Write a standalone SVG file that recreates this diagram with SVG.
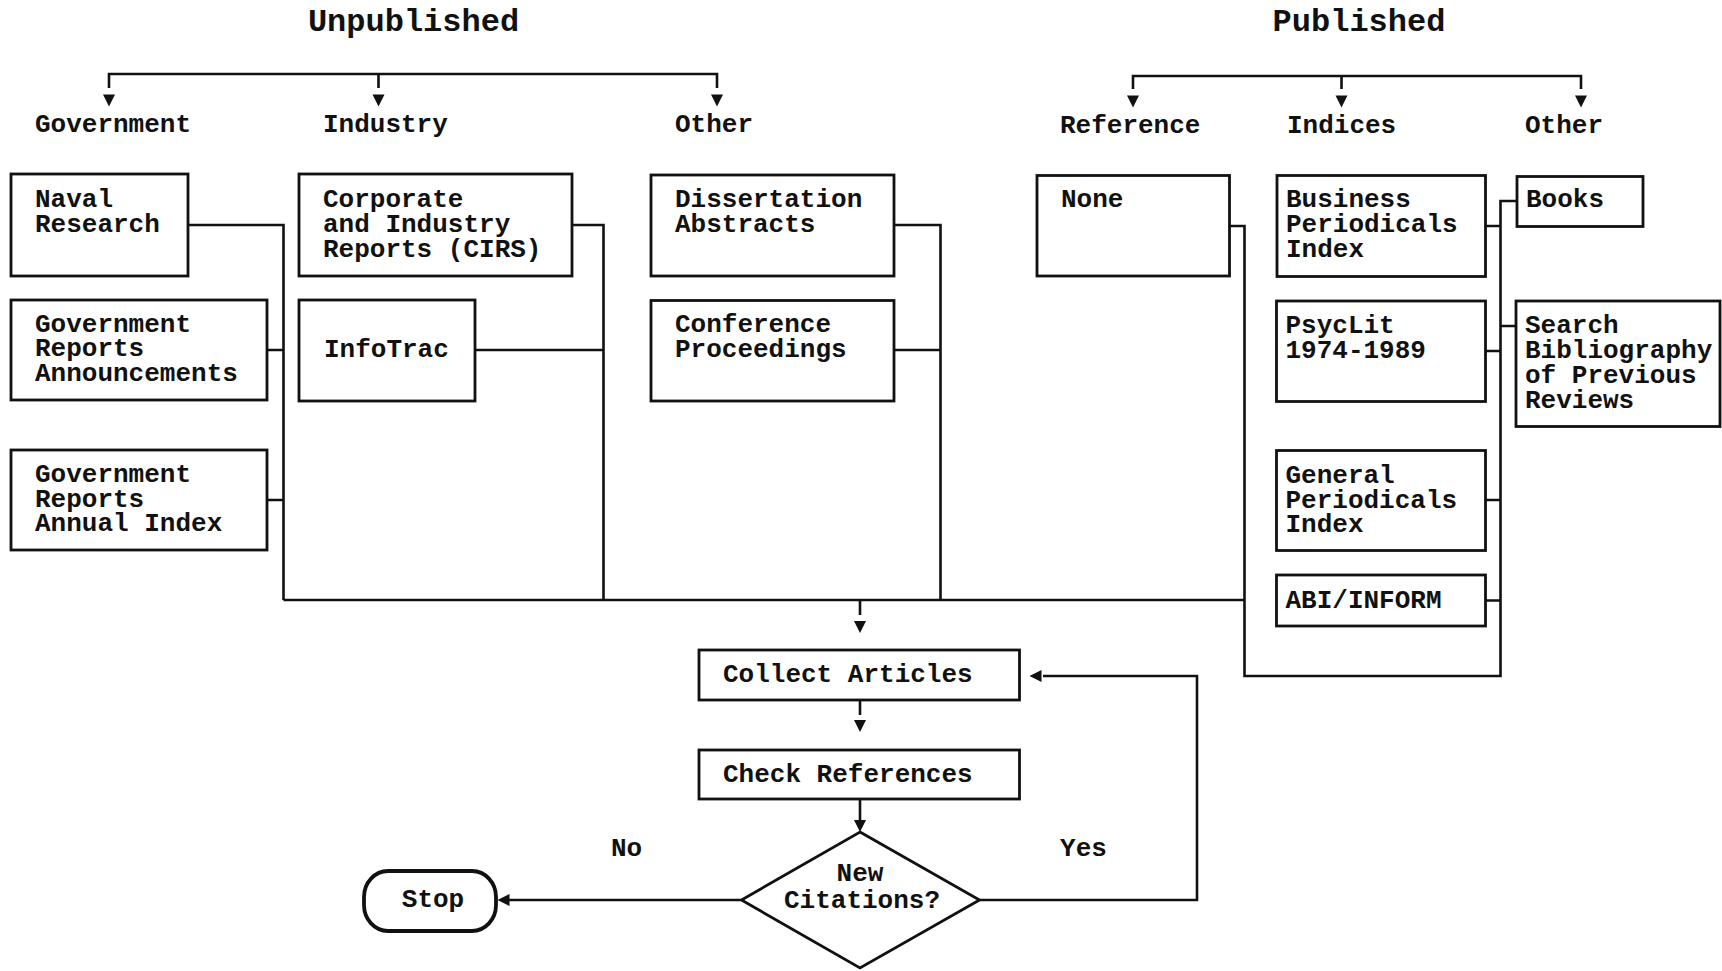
<svg xmlns="http://www.w3.org/2000/svg" width="1722" height="971" viewBox="0 0 1722 971">
<style>
  .box{fill:#fff;stroke:#111;stroke-width:2.8}
  .ln{fill:none;stroke:#111;stroke-width:2.6}
  .t{font-family:"Liberation Mono","Courier New",monospace;font-weight:bold;font-size:26px;fill:#111}
  .title{font-family:"Liberation Mono","Courier New",monospace;font-weight:bold;font-size:32px;fill:#111}
  .c{text-anchor:middle}
</style>
<defs>
  <polygon id="ad" points="-6,-12 6,-12 0,0" fill="#111"/>
  <polygon id="al" points="12,-6 12,6 0,0" fill="#111"/>
</defs>
<rect width="1722" height="971" fill="#fff"/>

<g id="titles">
  <text class="title c" x="413.5" y="31">Unpublished</text>
  <text class="title c" x="1359" y="31">Published</text>
</g>

<g id="categories">
  <text class="t" x="35" y="131.5">Government</text>
  <text class="t" x="323" y="131.5">Industry</text>
  <text class="t" x="675" y="131.5">Other</text>
  <text class="t" x="1060" y="133">Reference</text>
  <text class="t" x="1287" y="133">Indices</text>
  <text class="t" x="1525" y="133">Other</text>
</g>

<g id="connectors">
  <path class="ln" d="M109,88 V74 H717 V88 M378.5,74 V88"/>
  <use href="#ad" x="109" y="106.5"/>
  <use href="#ad" x="378.5" y="106.5"/>
  <use href="#ad" x="717" y="106.5"/>
  <path class="ln" d="M1133,89 V76 H1581 V89 M1341.5,76 V89"/>
  <use href="#ad" x="1133" y="107.5"/>
  <use href="#ad" x="1341.5" y="107.5"/>
  <use href="#ad" x="1581" y="107.5"/>
  <path class="ln" d="M188,225 H283.5 V600 M267,350 H283.5 M267,500 H283.5"/>
  <path class="ln" d="M572,225 H603.5 V600 M475,350 H603.5"/>
  <path class="ln" d="M894,225 H940.5 V600 M894,350 H940.5"/>
  <path class="ln" d="M283.5,600 H1244.5"/>
  <path class="ln" d="M1229.5,226 H1244.5 V676 H1500.5 V201 H1517"/>
  <path class="ln" d="M1485.5,226 H1500.5 M1485.5,351 H1500.5 M1485.5,500 H1500.5 M1485.5,600.5 H1500.5 M1500.5,326 H1517"/>
  <path class="ln" d="M860,600 V615"/>
  <use href="#ad" x="860" y="633"/>
  <path class="ln" d="M860,700 V715"/>
  <use href="#ad" x="860" y="732"/>
  <path class="ln" d="M860,799 V821"/>
  <use href="#ad" x="860" y="832"/>
  <path class="ln" d="M979.5,900 H1197 V676 H1043"/>
  <use href="#al" x="1029.5" y="676"/>
  <path class="ln" d="M741.5,900 H509"/>
  <use href="#al" x="497.5" y="900"/>
</g>

<g id="naval">
  <rect class="box" x="11" y="174" width="177" height="102"/>
  <text class="t" x="35" y="206.5">Naval</text>
  <text class="t" x="35" y="231.5">Research</text>
</g>
<g id="corporate">
  <rect class="box" x="299" y="174" width="273" height="102"/>
  <text class="t" x="323" y="207">Corporate</text>
  <text class="t" x="323" y="232">and Industry</text>
  <text class="t" x="323" y="257">Reports (CIRS)</text>
</g>
<g id="dissertation">
  <rect class="box" x="651" y="175" width="243" height="101"/>
  <text class="t" x="675" y="207">Dissertation</text>
  <text class="t" x="675" y="232">Abstracts</text>
</g>
<g id="gra">
  <rect class="box" x="11" y="300" width="256" height="100"/>
  <text class="t" x="35" y="331.5">Government</text>
  <text class="t" x="35" y="356">Reports</text>
  <text class="t" x="35" y="381">Announcements</text>
</g>
<g id="infotrac">
  <rect class="box" x="299" y="300" width="176" height="101"/>
  <text class="t" x="324" y="356.5">InfoTrac</text>
</g>
<g id="conference">
  <rect class="box" x="651" y="300.5" width="243" height="100.5"/>
  <text class="t" x="675" y="331.5">Conference</text>
  <text class="t" x="675" y="356.5">Proceedings</text>
</g>
<g id="grai">
  <rect class="box" x="11" y="450" width="256" height="100"/>
  <text class="t" x="35" y="481.5">Government</text>
  <text class="t" x="35" y="506.5">Reports</text>
  <text class="t" x="35" y="531">Annual Index</text>
</g>
<g id="none">
  <rect class="box" x="1037" y="175.5" width="192.5" height="100.5"/>
  <text class="t" x="1061" y="207">None</text>
</g>
<g id="bpi">
  <rect class="box" x="1277" y="175.5" width="208.5" height="101"/>
  <text class="t" x="1286" y="207">Business</text>
  <text class="t" x="1286" y="232">Periodicals</text>
  <text class="t" x="1286" y="257">Index</text>
</g>
<g id="books">
  <rect class="box" x="1517" y="176.5" width="126" height="50"/>
  <text class="t" x="1526" y="207">Books</text>
</g>
<g id="psyclit">
  <rect class="box" x="1276.5" y="301" width="209" height="100.5"/>
  <text class="t" x="1285.5" y="333">PsycLit</text>
  <text class="t" x="1285.5" y="357.5">1974-1989</text>
</g>
<g id="search">
  <rect class="box" x="1516" y="301" width="204" height="125.5"/>
  <text class="t" x="1525" y="333">Search</text>
  <text class="t" x="1525" y="358">Bibliography</text>
  <text class="t" x="1525" y="382.5">of Previous</text>
  <text class="t" x="1525" y="407.5">Reviews</text>
</g>
<g id="gpi">
  <rect class="box" x="1276.5" y="450.5" width="209" height="100"/>
  <text class="t" x="1285.5" y="482.5">General</text>
  <text class="t" x="1285.5" y="507.5">Periodicals</text>
  <text class="t" x="1285.5" y="532">Index</text>
</g>
<g id="abi">
  <rect class="box" x="1276.5" y="575" width="209" height="51"/>
  <text class="t" x="1285.5" y="608">ABI/INFORM</text>
</g>

<g id="collect">
  <rect class="box" x="699" y="650" width="320.5" height="50"/>
  <text class="t" x="723" y="681.5">Collect Articles</text>
</g>
<g id="check">
  <rect class="box" x="699" y="750" width="320.5" height="49"/>
  <text class="t" x="723" y="781.5">Check References</text>
</g>
<g id="decision">
  <polygon class="box" points="860,832 979.5,900 860,968 741.5,900"/>
  <text class="t c" x="860" y="881">New</text>
  <text class="t c" x="862" y="908">Citations?</text>
</g>
<g id="stop">
  <rect x="364" y="871" width="132" height="60" rx="24" ry="26" fill="#fff" stroke="#111" stroke-width="3.8"/>
  <text class="t c" x="433" y="906.5">Stop</text>
</g>
<g id="labels">
  <text class="t c" x="626.5" y="856">No</text>
  <text class="t c" x="1083.5" y="856">Yes</text>
</g>
</svg>
